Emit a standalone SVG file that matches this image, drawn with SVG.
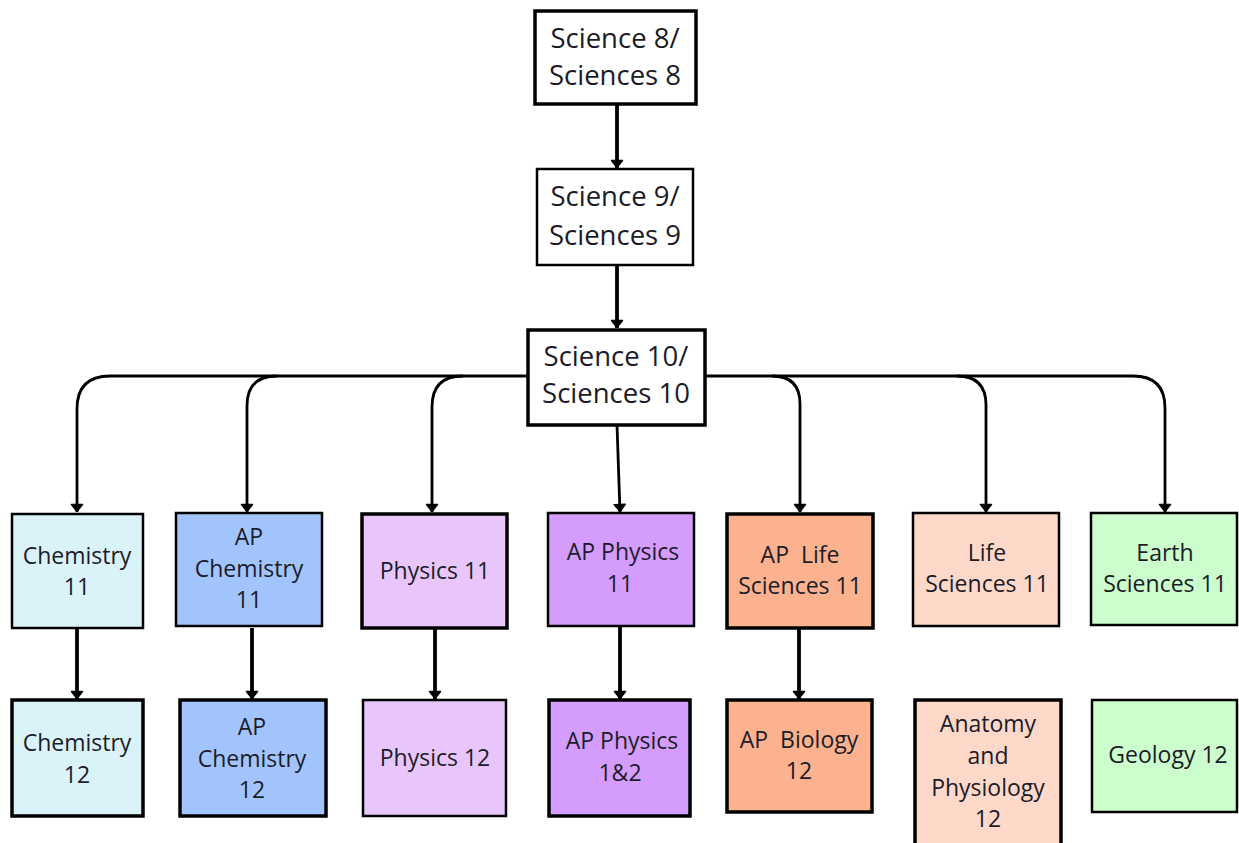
<svg xmlns="http://www.w3.org/2000/svg" width="1239" height="843" viewBox="0 0 1239 843">
<style>
.box{stroke:#000;stroke-width:2.5}
.thick{stroke-width:3.5}
.t{font-family:"Open Sans","Noto Sans","Liberation Sans",sans-serif;fill:#1c1c28;text-anchor:middle}
.big{font-size:27.5px}
.sm{font-size:23px}
.ln{fill:none;stroke:#000;stroke-width:2.8}
.ln2{fill:none;stroke:#000;stroke-width:3.8}
</style>
<defs>
<marker id="ah" markerUnits="userSpaceOnUse" viewBox="0 0 10 14" refX="9" refY="7" markerWidth="10" markerHeight="14" orient="auto">
<path d="M1.5,1.5 L8.5,7 L1.5,12.5 Z" fill="#000" stroke="#000" stroke-width="1.5" stroke-linejoin="round"/>
</marker>
</defs>
<rect width="1239" height="843" fill="#fff"/>
<g id="connectors">
<path class="ln" d="M110,376 L1133,376"/>
<path class="ln" marker-end="url(#ah)" d="M110,376 Q77,376 77,409 L77,512"/>
<path class="ln" marker-end="url(#ah)" d="M277,376 Q247,376 247,406 L247,512"/>
<path class="ln" marker-end="url(#ah)" d="M463,376 Q432,376 432,407 L432,512"/>
<path class="ln" marker-end="url(#ah)" d="M617,425 L620,512"/>
<path class="ln" marker-end="url(#ah)" d="M772,376 Q800,376 800,404 L800,512"/>
<path class="ln" marker-end="url(#ah)" d="M957,376 Q986,376 986,405 L986,512"/>
<path class="ln" marker-end="url(#ah)" d="M1133,376 Q1165,376 1165,408 L1165,512"/>
<path class="ln2" marker-end="url(#ah)" d="M617,104 L617,168"/>
<path class="ln2" marker-end="url(#ah)" d="M617,265 L617,328"/>
<path class="ln2" marker-end="url(#ah)" d="M77,628 L77,699"/>
<path class="ln2" marker-end="url(#ah)" d="M252,628 L252,699"/>
<path class="ln2" marker-end="url(#ah)" d="M435,628 L435,699"/>
<path class="ln2" marker-end="url(#ah)" d="M620,627 L620,699"/>
<path class="ln2" marker-end="url(#ah)" d="M799,628 L799,699"/>
</g>
<g id="sci8"><rect class="box thick" x="535" y="11" width="161" height="93" fill="#fff"/><text class="t big" x="615" y="48">Science 8/</text><text class="t big" x="615" y="85">Sciences 8</text></g>
<g id="sci9"><rect class="box" x="537" y="169" width="156" height="96" fill="#fff"/><text class="t big" x="615" y="206">Science 9/</text><text class="t big" x="615" y="245">Sciences 9</text></g>
<g id="sci10"><rect class="box thick" x="528" y="330" width="177" height="95" fill="#fff"/><text class="t big" x="616" y="366">Science 10/</text><text class="t big" x="616" y="403">Sciences 10</text></g>
<g id="chem11"><rect class="box" x="12" y="514" width="131" height="114" fill="#daf3f8"/><text class="t sm" x="77" y="564">Chemistry</text><text class="t sm" x="77" y="595">11</text></g>
<g id="apchem11"><rect class="box" x="176" y="513" width="146" height="113" fill="#a2c4fd"/><text class="t sm" x="249" y="545">AP</text><text class="t sm" x="249" y="577">Chemistry</text><text class="t sm" x="249" y="608">11</text></g>
<g id="phys11"><rect class="box thick" x="362" y="514" width="145" height="114" fill="#e8c6fc"/><text class="t sm" x="435" y="579">Physics 11</text></g>
<g id="apphys11"><rect class="box" x="548" y="513" width="146" height="113" fill="#d49dfd"/><text class="t sm" x="623" y="560">AP Physics</text><text class="t sm" x="620" y="592">11</text></g>
<g id="aplife11"><rect class="box thick" x="727" y="514" width="146" height="114" fill="#fcb28f"/><text class="t sm" x="800" y="563" xml:space="preserve">AP  Life</text><text class="t sm" x="800" y="594">Sciences 11</text></g>
<g id="life11"><rect class="box" x="913" y="513" width="146" height="113" fill="#fed8c8"/><text class="t sm" x="987" y="561">Life</text><text class="t sm" x="987" y="592">Sciences 11</text></g>
<g id="earth11"><rect class="box" x="1091" y="513" width="146" height="112" fill="#ccfdcc"/><text class="t sm" x="1165" y="561">Earth</text><text class="t sm" x="1165" y="592">Sciences 11</text></g>
<g id="chem12"><rect class="box thick" x="12" y="700" width="131" height="116" fill="#daf3f8"/><text class="t sm" x="77" y="751">Chemistry</text><text class="t sm" x="77" y="783">12</text></g>
<g id="apchem12"><rect class="box thick" x="180" y="700" width="146" height="116" fill="#a2c4fd"/><text class="t sm" x="252" y="735">AP</text><text class="t sm" x="252" y="767">Chemistry</text><text class="t sm" x="252" y="798">12</text></g>
<g id="phys12"><rect class="box" x="363" y="700" width="143" height="116" fill="#e8c6fc"/><text class="t sm" x="435" y="766">Physics 12</text></g>
<g id="apphys12"><rect class="box thick" x="549" y="700" width="141" height="116" fill="#d49dfd"/><text class="t sm" x="622" y="749">AP Physics</text><text class="t sm" x="620" y="781">1&amp;2</text></g>
<g id="apbio12"><rect class="box thick" x="727" y="700" width="145" height="112" fill="#fcb28f"/><text class="t sm" x="799" y="748" xml:space="preserve">AP  Biology</text><text class="t sm" x="799" y="779">12</text></g>
<g id="anat12"><rect class="box thick" x="915" y="700" width="146" height="150" fill="#fed8c8"/><text class="t sm" x="988" y="732">Anatomy</text><text class="t sm" x="988" y="764">and</text><text class="t sm" x="988" y="796">Physiology</text><text class="t sm" x="988" y="827">12</text></g>
<g id="geo12"><rect class="box" x="1092" y="700" width="145" height="112" fill="#ccfdcc"/><text class="t sm" x="1168" y="763">Geology 12</text></g>
</svg>
